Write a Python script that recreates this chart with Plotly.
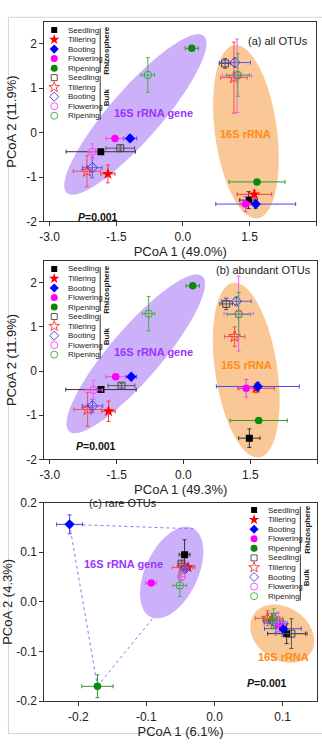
import numpy as np
import plotly.graph_objects as go

W, H = 322, 745
FONT = "Arial, Liberation Sans, sans-serif"

STAGES = ["Seedling", "Tillering", "Booting", "Flowering", "Ripening"]
COMPARTMENTS = ["Rhizosphere", "Bulk"]

# Series order: Rhizosphere Seedling..Ripening, then Bulk Seedling..Ripening
# (a) all OTUs
A_GENE_X = [-1.85, -1.69, -1.19, -1.53, 0.20, -1.41, -2.16, -2.04, -2.04, -0.79]
A_GENE_Y = [-0.43, -0.93, -0.13, -0.13, 1.90, -0.35, -0.87, -0.79, -0.43, 1.30]
A_GENE_XERR = [0.78, 0.16, 0.15, 0.20, 0.15, 0.32, 0.31, 0.22, 0.10, 0.15]
A_GENE_YERR = [0.05, 0.20, 0.05, 0.05, 0.05, 0.05, 0.35, 0.23, 0.18, 0.39]
A_RNA_X = [1.48, 1.61, 1.64, 1.41, 1.67, 0.95, 1.15, 1.17, 1.22, 1.24]
A_RNA_Y = [-1.52, -1.39, -1.61, -1.61, -1.11, 1.56, 1.24, 1.58, 1.28, 1.30]
A_RNA_XERR = [0.20, 0.39, 0.90, 0.10, 0.63, 0.13, 0.30, 0.35, 0.33, 0.26]
A_RNA_YERR = [0.19, 0.09, 0.10, 0.17, 0.05, 0.11, 0.80, 0.10, 0.83, 0.48]

# (b) abundant OTUs
B_GENE_X = [-1.85, -1.68, -1.17, -1.52, 0.21, -1.39, -2.15, -2.04, -2.02, -0.78]
B_GENE_Y = [-0.42, -0.91, -0.13, -0.13, 1.93, -0.33, -0.87, -0.79, -0.43, 1.30]
B_GENE_XERR = [0.79, 0.15, 0.12, 0.22, 0.15, 0.30, 0.31, 0.23, 0.20, 0.14]
B_GENE_YERR = [0.05, 0.23, 0.04, 0.05, 0.05, 0.05, 0.38, 0.15, 0.22, 0.39]
B_RNA_X = [1.48, 1.63, 1.67, 1.41, 1.69, 0.96, 1.15, 1.19, 1.24, 1.24]
B_RNA_Y = [-1.52, -0.39, -0.35, -0.39, -1.12, 1.52, 0.78, 1.58, 1.30, 1.28]
B_RNA_XERR = [0.24, 0.41, 0.93, 0.15, 0.64, 0.14, 0.23, 0.33, 0.33, 0.26]
B_RNA_YERR = [0.21, 0.10, 0.10, 0.20, 0.05, 0.13, 0.22, 0.08, 0.85, 0.50]

# (c) rare OTUs
C_GENE_X = [-0.044, -0.039, -0.213, -0.093, -0.172, -0.0485, -0.047, -0.043, -0.0485, -0.051]
C_GENE_Y = [0.095, 0.070, 0.156, 0.038, -0.170, 0.077, 0.069, 0.067, 0.051, 0.033]
C_GENE_XERR = [0.008, 0.010, 0.019, 0.008, 0.023, 0.004, 0.015, 0.005, 0.005, 0.010]
C_GENE_YERR = [0.030, 0.006, 0.019, 0.004, 0.023, 0.005, 0.005, 0.006, 0.008, 0.022]
C_RNA_X = [0.106, 0.086, 0.1005, 0.094, 0.084, 0.113, 0.078, 0.090, 0.094, 0.087]
C_RNA_Y = [-0.064, -0.036, -0.054, -0.0446, -0.038, -0.064, -0.033, -0.043, -0.041, -0.034]
C_RNA_XERR = [0.028, 0.015, 0.027, 0.010, 0.012, 0.023, 0.018, 0.017, 0.010, 0.013]
C_RNA_YERR = [0.020, 0.012, 0.015, 0.015, 0.015, 0.030, 0.015, 0.020, 0.020, 0.020]

PANEL_TITLES = ["(a) all OTUs", "(b) abundant OTUs", "(c) rare OTUs"]
X_TITLES = ["PCoA 1 (49.0%)", "PCoA 1 (49.3%)", "PCoA 1 (6.1%)"]
Y_TITLES = ["PCoA 2 (11.9%)", "PCoA 2 (11.9%)", "PCoA 2 (4.3%)"]
X_TICKS = [[-3.0, -1.5, 0.0, 1.5, 3.0]] * 2 + [[-0.2, -0.1, 0.0, 0.1]]
X_TICKTEXT = [["-3.0", "-1.5", "0.0", "1.5", "3.0"]] * 2 + [["-0.2", "-0.1", "0.0", "0.1"]]
Y_TICKS = [[-2, -1, 0, 1, 2]] * 2 + [[-0.2, -0.1, 0.0, 0.1, 0.2]]
Y_TICKTEXT = [["-2", "-1", "0", "1", "2"]] * 2 + [["-0.2", "-0.1", "0.0", "0.1", "0.2"]]
P_TEXT = "P=0.001"

PANELS = [
    (A_GENE_X, A_GENE_Y, A_GENE_XERR, A_GENE_YERR, A_RNA_X, A_RNA_Y, A_RNA_XERR, A_RNA_YERR),
    (B_GENE_X, B_GENE_Y, B_GENE_XERR, B_GENE_YERR, B_RNA_X, B_RNA_Y, B_RNA_XERR, B_RNA_YERR),
    (C_GENE_X, C_GENE_Y, C_GENE_XERR, C_GENE_YERR, C_RNA_X, C_RNA_Y, C_RNA_XERR, C_RNA_YERR),
]

# ---- styling ----
SYMBOLS = ["square", "star", "diamond", "circle", "circle"]
SIZES = [7, 9, 8, 7.5, 7.5]
KEY_SIZES = [6, 8, 7, 7, 7]
COLORS_RHIZO = ["#000000", "#ff0000", "#0000ff", "#ff00ff", "#0a8a0a"]
COLORS_BULK = ["#444444", "#ff3333", "#3a3ad8", "#ff3cff", "#3aa83a"]
ERR_RHIZO = ["#333333", "#f03a3a", "#4a4af0", "#f040f0", "#2f9a2f"]
ERR_BULK = ["#555555", "#f05050", "#5a5ae8", "#f060f0", "#4cae4c"]
PURPLE_FILL = "#cdb0fa"
ORANGE_FILL = "#f9c896"
PURPLE_TEXT = "#9933ff"
ORANGE_TEXT = "#ff8a1a"
AXIS_COLOR = "#333333"
TEXT_COLOR = "#222222"

# panel frames in pixels: left, right, top, bottom
BOXES = [(40, 316, 15, 218.5), (40, 317, 258.5, 461), (40, 316.5, 505, 707.5)]
X_RANGES = [[-3.12, 3.0], [-3.12, 3.0], [-0.25, 0.15]]
Y_RANGES = [[-2.0, 2.5], [-2.0, 2.5], [-0.2, 0.2]]

# ellipse outlines: centre (data), semi-axes (px), rotation (deg)
ELLIPSES = [
    [((-1.07, 0.41), 106, 26, 49.0, PURPLE_FILL), ((1.42, 0.02), 89, 31.5, 97.6, ORANGE_FILL)],
    [((-1.07, 0.39), 104, 26, 49.5, PURPLE_FILL), ((1.41, 0.02), 90, 31.5, 98.5, ORANGE_FILL)],
    [((-0.063, 0.059), 50, 26.7, 65.0, PURPLE_FILL), ((0.0995, -0.064), 35, 26.7, -35.0, ORANGE_FILL)],
]
GROUP_LABELS = [
    [((-0.67, 0.44), "16S rRNA gene", PURPLE_TEXT), ((1.41, -0.04), "16S rRNA", ORANGE_TEXT)],
    [((-0.667, 0.42), "16S rRNA gene", PURPLE_TEXT), ((1.41, 0.126), "16S rRNA", ORANGE_TEXT)],
    [((-0.1335, 0.0754), "16S rRNA gene", PURPLE_TEXT), ((0.102, -0.111), "16S rRNA", ORANGE_TEXT)],
]


def px_x(px):
    return px / W


def px_y(py):
    return 1 - py / H


def ellipse_path(cx, cy, a_px, b_px, ang, kx, ky, n=120):
    t = np.linspace(0, 2 * np.pi, n)
    th = np.radians(ang)
    u, v = a_px * np.cos(t), b_px * np.sin(t)
    xs = cx + (u * np.cos(th) - v * np.sin(th)) / kx
    ys = cy + (u * np.sin(th) + v * np.cos(th)) / ky
    return "M " + " L ".join(f"{x:.5f},{y:.5f}" for x, y in zip(xs, ys)) + " Z"


fig = go.Figure()
shapes, annotations = [], []
layout = {}

for p, data in enumerate(PANELS):
    gx, gy, gxe, gye, rx, ry, rxe, rye = data
    left, right, top, bottom = BOXES[p]
    sfx = "" if p == 0 else str(p + 1)
    lsfx = str(p + 4)
    xa, ya = "x" + sfx, "y" + sfx
    la, lb = "x" + lsfx, "y" + lsfx
    kx = (right - left) / (X_RANGES[p][1] - X_RANGES[p][0])
    ky = (bottom - top) / (Y_RANGES[p][1] - Y_RANGES[p][0])

    axis_common = dict(showline=True, mirror=True, linecolor=AXIS_COLOR, linewidth=1.1,
                       ticks="outside", ticklen=4, tickcolor=AXIS_COLOR, tickwidth=1,
                       showgrid=False, zeroline=False,
                       tickfont=dict(family=FONT, size=12, color=TEXT_COLOR))
    layout["xaxis" + sfx] = dict(axis_common, domain=[px_x(left), px_x(right)], range=X_RANGES[p],
                                 anchor=ya, tickvals=X_TICKS[p], ticktext=X_TICKTEXT[p],
                                 title=dict(text=X_TITLES[p], standoff=4,
                                            font=dict(family=FONT, size=13, color=TEXT_COLOR)))
    layout["yaxis" + sfx] = dict(axis_common, domain=[px_y(bottom), px_y(top)], range=Y_RANGES[p],
                                 anchor=xa, tickvals=Y_TICKS[p], ticktext=Y_TICKTEXT[p],
                                 title=dict(text=Y_TITLES[p], standoff=6,
                                            font=dict(family=FONT, size=13, color=TEXT_COLOR)))
    # key area in pixel units measured from the panel's top-left corner
    layout["xaxis" + lsfx] = dict(domain=[px_x(left), px_x(right)], range=[0, right - left],
                                  anchor=lb, visible=False, fixedrange=True)
    layout["yaxis" + lsfx] = dict(domain=[px_y(bottom), px_y(top)], range=[bottom - top, 0],
                                  anchor=la, visible=False, fixedrange=True)

    for (c, a_px, b_px, ang, fill) in ELLIPSES[p]:
        shapes.append(dict(type="path", xref=xa, yref=ya, layer="below",
                           path=ellipse_path(c[0], c[1], a_px, b_px, ang, kx, ky),
                           fillcolor=fill, line=dict(width=0)))

    if p == 2:
        # dotted hull joining the two outlying rhizosphere points to the gene cluster
        hull = [(-0.031, 0.147), (gx[2], gy[2]), (gx[4], gy[4]), (-0.089, -0.030)]
        for (x0, y0), (x1, y1) in zip(hull[:-1], hull[1:]):
            shapes.append(dict(type="line", xref=xa, yref=ya, x0=x0, y0=y0, x1=x1, y1=y1,
                               line=dict(color="#a070f0", width=1, dash="dot"), layer="below"))

    for i in range(10):
        comp = i // 5
        s = i % 5
        color = COLORS_RHIZO[s] if comp == 0 else COLORS_BULK[s]
        ecolor = ERR_RHIZO[s] if comp == 0 else ERR_BULK[s]
        symbol = SYMBOLS[s] if comp == 0 else SYMBOLS[s] + "-open"
        fig.add_trace(go.Scatter(
            x=[gx[i], rx[i]], y=[gy[i], ry[i]], xaxis=xa, yaxis=ya, mode="markers",
            name=f"{STAGES[s]} ({COMPARTMENTS[comp]})", showlegend=False,
            marker=dict(symbol=symbol, size=SIZES[s], color=color,
                        line=dict(color=color, width=1 if comp else 0)),
            error_x=dict(type="data", array=[gxe[i], rxe[i]], color=ecolor, thickness=1, width=2),
            error_y=dict(type="data", array=[gye[i], rye[i]], color=ecolor, thickness=1, width=2),
        ))

    # stage key
    if p < 2:
        kx0, ktx, ky0, kdy, brx = 10, 22, 8.5, 9.7, 56.7
        spans = [(6.5, 51.5), (55, 100)]
    else:
        kx0, ktx, ky0, kdy, brx = 213, 225, 7.7, 9.75, 260
        spans = [(4, 50), (53, 100)]
    for i in range(10):
        comp = i // 5
        s = i % 5
        color = COLORS_RHIZO[s] if comp == 0 else COLORS_BULK[s]
        symbol = SYMBOLS[s] if comp == 0 else SYMBOLS[s] + "-open"
        yk = ky0 + i * kdy
        fig.add_trace(go.Scatter(
            x=[kx0], y=[yk], xaxis=la, yaxis=lb, mode="markers", showlegend=False,
            hoverinfo="skip",
            marker=dict(symbol=symbol, size=KEY_SIZES[s], color=color,
                        line=dict(color=color, width=0.9 if comp else 0))))
        annotations.append(dict(x=ktx, y=yk, xref=la, yref=lb, text=STAGES[s], showarrow=False,
                                xanchor="left", yanchor="middle",
                                font=dict(family=FONT, size=8, color=TEXT_COLOR)))
    for (y0, y1), comp in zip(spans, COMPARTMENTS):
        shapes.append(dict(type="line", xref=la, yref=lb, x0=brx, x1=brx, y0=y0, y1=y1,
                           line=dict(color="#333333", width=1)))
        annotations.append(dict(x=brx + 6.5, y=(y0 + y1) / 2, xref=la, yref=lb,
                                text=f"<b>{comp}</b>", textangle=-90, showarrow=False,
                                xanchor="center", yanchor="middle",
                                font=dict(family=FONT, size=8, color=TEXT_COLOR)))

    for (pos, txt, col) in GROUP_LABELS[p]:
        annotations.append(dict(x=pos[0], y=pos[1], xref=xa, yref=ya, text=f"<b>{txt}</b>",
                                showarrow=False, xanchor="center", yanchor="middle",
                                font=dict(family=FONT, size=11, color=col)))

# panel captions and statistics
annotations += [
    dict(x=px_x(310), y=px_y(26), xref="paper", yref="paper", text=PANEL_TITLES[0],
         xanchor="right", showarrow=False, font=dict(family=FONT, size=11, color=TEXT_COLOR)),
    dict(x=px_x(313), y=px_y(267.7), xref="paper", yref="paper", text=PANEL_TITLES[1],
         xanchor="right", showarrow=False, font=dict(family=FONT, size=11, color=TEXT_COLOR)),
    dict(x=px_x(83), y=px_y(514), xref="paper", yref="paper", text=PANEL_TITLES[2],
         xanchor="left", showarrow=False, font=dict(family=FONT, size=11, color=TEXT_COLOR)),
]
for (px, py) in [(72, 206), (70, 447.7), (288, 696.7)]:
    annotations.append(dict(x=px_x(px), y=px_y(py), xref="paper", yref="paper",
                            text="<b><i>P</i>" + P_TEXT[1:] + "</b>", showarrow=False,
                            font=dict(family=FONT, size=10.5, color="#111111")))

# light page frame
shapes.append(dict(type="rect", xref="paper", yref="paper", x0=px_x(3.5), x1=px_x(340),
                   y0=px_y(740.5), y1=px_y(10.5), line=dict(color="#d4d4d4", width=1),
                   fillcolor="rgba(0,0,0,0)", layer="below"))

fig.update_layout(
    width=W, height=H, margin=dict(l=0, r=0, t=0, b=0),
    paper_bgcolor="white", plot_bgcolor="rgba(0,0,0,0)",
    shapes=shapes, annotations=annotations, showlegend=False,
    font=dict(family=FONT, color=TEXT_COLOR),
    **layout,
)

fig.write_html("out.html")
